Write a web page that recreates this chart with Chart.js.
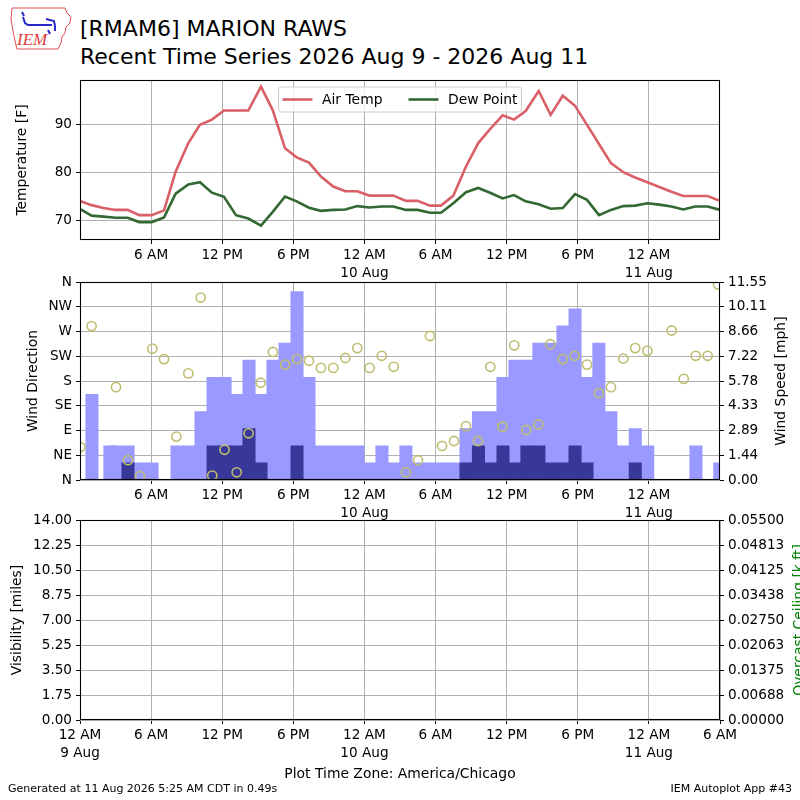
<!DOCTYPE html>
<html>
<head>
<meta charset="utf-8">
<title>RMAM6 Recent Time Series</title>
<script src="https://cdn.jsdelivr.net/npm/chart.js@4.4.1/dist/chart.umd.min.js"></script>
<style>
    html, body { margin: 0; padding: 0; background: #fff; width: 800px; height: 800px; overflow: hidden; }
    body { position: relative; font-family: "DejaVu Sans", sans-serif; color: #000; }
    .panel { position: absolute; left: 0; }
    #title { position: absolute; left: 80px; top: 15px; font-size: 22px; line-height: 28px; white-space: nowrap; }
    .foot { position: absolute; top: 781px; font-size: 11px; line-height: 16px; white-space: nowrap; }
    #logo { position: absolute; left: 8px; top: 4px; }
</style>
</head>
<body>
<svg id="logo" width="66" height="48" viewBox="0 0 66 48">
    <path d="M4 4 L57 4 L59 9 L63 13 L62 19 L58 23 L57 29 L54 33 L53 39 L50 45 L9 45 L7 37 L5 27 L3 15 Z" fill="none" stroke="#e05050" stroke-width="1"/>
    <path d="M14 8 L16 12 M15 13 L17 19 L20 21 L44 21 M38 15 L46 17 L47 22 L47 27 M40 26 L42 30" stroke="#2a2ac8" stroke-width="2" fill="none"/>
    <text x="9" y="41" font-family="Liberation Serif" font-style="italic" font-size="17" fill="#e03c3c">IEM</text>
</svg>
<div id="title">[RMAM6] MARION RAWS<br>Recent Time Series 2026 Aug 9 - 2026 Aug 11</div>
<div class="panel" style="top:60px"><canvas id="temp-chart" width="820" height="240"></canvas></div>
<div class="panel" style="top:270px"><canvas id="wind-chart" width="820" height="270"></canvas></div>
<div class="panel" style="top:500px"><canvas id="vis-chart" width="820" height="300"></canvas></div>
<div class="foot" style="left:8px">Generated at 11 Aug 2026 5:25 AM CDT in 0.49s</div>
<div class="foot" style="right:8px">IEM Autoplot App #43</div>

<script>
// saatler: 9 Aug 00:00'dan itibaren geçen saat
const hourTicks = [0, 6, 12, 18, 24, 30, 36, 42, 48, 54];
const hourLabels = [["12 AM", "9 Aug"], "6 AM", "12 PM", "6 PM", ["12 AM", "10 Aug"], "6 AM", "12 PM", "6 PM", ["12 AM", "11 Aug"], "6 AM"];

// sıcaklık ve çiy noktası
const tempHours = [0.06, 0.98, 1.99, 3.0, 4.02, 5.0, 6.05, 7.09, 8.07, 9.14,
    10.12, 11.13, 12.15, 13.16, 14.2, 15.27, 16.26, 17.3, 18.28, 19.32,
    20.33, 21.37, 22.39, 23.4, 24.41, 25.45, 26.44, 27.5, 28.49, 29.53,
    30.46, 31.5, 32.57, 33.6, 34.6, 35.66, 36.62, 37.6, 38.7, 39.71,
    40.73, 41.77, 42.78, 43.79, 44.8, 45.84, 46.84, 47.87, 48.88, 49.9,
    50.9, 51.9, 52.96, 54.0];
const airTemp = [74, 73.2, 72.6, 72.2, 72.2, 71.1, 71.1, 72.1, 80.2, 86.2,
    90, 91.1, 93, 93, 93, 98, 93.1, 85.1, 83.2, 82.1,
    79.2, 77.1, 76.1, 76.1, 75.2, 75.2, 75.2, 74.1, 74.1, 73.1,
    73.1, 75.2, 81.3, 86.2, 89.1, 92, 91.1, 92.9, 97.1, 92.1,
    96.1, 94, 90, 86, 82, 80.1, 79, 78, 77, 76,
    75.1, 75.1, 75.1, 74.1];
const dewPoint = [72.3, 71.0, 70.8, 70.55, 70.55, 69.65, 69.65, 70.6, 75.6, 77.55,
    78.0, 75.8, 74.95, 71.1, 70.4, 68.9, 71.8, 75.0, 74.0, 72.65,
    72.0, 72.2, 72.3, 73.0, 72.7, 72.9, 72.9, 72.2, 72.2, 71.6,
    71.6, 73.6, 75.9, 76.8, 75.8, 74.6, 75.3, 74.0, 73.4, 72.45,
    72.6, 75.5, 74.3, 71.1, 72.2, 73.0, 73.1, 73.6, 73.3, 72.9,
    72.3, 72.9, 72.9, 72.2];
const tempTicks = [70, 80, 90];

// rüzgar hızı / hamle (mph)
const windHours = [1.01, 2.52, 3.03, 4.05, 5.07, 6.08, 8.19, 9.2, 10.21, 11.23,
    12.24, 13.25, 14.26, 15.27, 16.28, 17.3, 18.31, 19.32, 20.33, 21.34,
    22.4, 23.45, 24.47, 25.48, 26.5, 27.5, 28.5, 29.52, 30.54, 31.56,
    32.57, 33.62, 34.68, 35.69, 36.7, 37.71, 38.72, 39.73, 40.75, 41.77,
    42.78, 43.78, 44.79, 45.8, 46.85, 47.9, 51.97, 53.98];
const gustMph = [5, 2, 2, 2, 1, 1, 2, 2, 4, 6,
    6, 5, 7, 5, 7, 8, 11, 6, 2, 2,
    2, 2, 1, 2, 1, 2, 1, 1, 1, 1,
    3, 4, 4, 6, 7, 7, 8, 8, 9, 10,
    6, 8, 4, 2, 3, 2, 2, 1];
const speedMph = [0, 0, 0, 1, 0, 0, 0, 0, 0, 2,
    2, 2, 3, 1, 0, 0, 2, 0, 0, 0,
    0, 0, 0, 0, 0, 0, 0, 0, 0, 0,
    1, 2, 1, 2, 1, 2, 2, 1, 1, 2,
    1, 0, 0, 0, 1, 0, 0, 0];

// rüzgar yönü (derece)
const dirHours = [0.03, 0.98, 3.04, 4.05, 5.06, 6.1, 7.09, 8.13, 9.14, 10.18,
    11.16, 12.2, 13.22, 14.23, 15.24, 16.28, 17.3, 18.31, 19.32, 20.33,
    21.37, 22.39, 23.4, 24.44, 25.46, 26.47, 27.5, 28.52, 29.53, 30.55,
    31.56, 32.57, 33.58, 34.62, 35.63, 36.64, 37.66, 38.67, 39.68, 40.73,
    41.74, 42.78, 43.79, 44.8, 45.84, 46.85, 47.87, 49.92, 50.94, 51.95,
    52.96, 53.83];
const dirDeg = [60, 280, 169, 36, 7, 239, 220, 79, 194, 332,
    8, 55, 14, 85, 177, 233, 210, 220, 217, 204,
    204, 222, 240, 204, 226, 206, 14, 36, 262, 62,
    71, 98, 71, 206, 97, 245, 91, 101, 247, 220,
    226, 210, 158, 169, 221, 240, 235, 272, 184, 226,
    226, 356];
const dirTicks = [0, 45, 90, 135, 180, 225, 270, 315, 360];
const dirLabels = ["N", "NE", "E", "SE", "S", "SW", "W", "NW", "N"];
const speedTicks = [0, 1.444, 2.8875, 4.331, 5.775, 7.219, 8.6625, 10.106, 11.55];
const speedLabels = ["0.00", "1.44", "2.89", "4.33", "5.78", "7.22", "8.66", "10.11", "11.55"];

// görüş / tavan (veri yok)
const visibility = [];
const ceiling = [];
const visTicks = [0, 1.75, 3.5, 5.25, 7, 8.75, 10.5, 12.25, 14];
const visLabels = ["0.00", "1.75", "3.50", "5.25", "7.00", "8.75", "10.50", "12.25", "14.00"];
const ceilTicks = [0, 0.006875, 0.01375, 0.020625, 0.0275, 0.034375, 0.04125, 0.048125, 0.055];
const ceilLabels = ["0.00000", "0.00688", "0.01375", "0.02063", "0.02750", "0.03438", "0.04125", "0.04813", "0.05500"];

const gridColor = "#b0b0b0";
const labelFont = { size: 13.9 };

Chart.defaults.font.family = '"DejaVu Sans", sans-serif';
Chart.defaults.font.size = 13.6;
Chart.defaults.color = "#000";
Chart.defaults.animation = false;
Chart.defaults.plugins.legend.display = false;
Chart.defaults.plugins.tooltip.enabled = false;

function points(xs, ys) {
    return xs.map((x, i) => ({ x: x, y: ys[i] }));
}

// çerçeve (matplotlib spines)
const frame = {
    id: "frame",
    afterDraw(chart) {
        const { ctx, chartArea } = chart;
        ctx.save();
        ctx.strokeStyle = "#000";
        ctx.lineWidth = 1.1;
        ctx.strokeRect(Math.round(chartArea.left) + 0.5, Math.round(chartArea.top) + 0.5,
            Math.round(chartArea.width) - 1, Math.round(chartArea.height) - 1);
        ctx.restore();
    }
};

// sağ eksen başlığı, matplotlib gibi aşağıdan yukarı okunur
function rightTitle(text, x, color) {
    return {
        id: "rightTitle",
        afterDraw(chart) {
            const { ctx, chartArea } = chart;
            ctx.save();
            ctx.translate(x, (chartArea.top + chartArea.bottom) / 2);
            ctx.rotate(-Math.PI / 2);
            ctx.font = '13.9px "DejaVu Sans"';
            ctx.fillStyle = color;
            ctx.textAlign = "center";
            ctx.textBaseline = "middle";
            ctx.fillText(text, 0, 0);
            ctx.restore();
        }
    };
}

// grafiğin içinde, üst ortada lejant kutusu
const legendBox = {
    id: "legendBox",
    afterDatasetsDraw(chart) {
        const { ctx, chartArea } = chart;
        ctx.save();
        ctx.font = '13.9px "DejaVu Sans"';
        const items = chart.data.datasets.map(ds => ({ text: ds.label, color: ds.borderColor, w: ctx.measureText(ds.label).width }));
        const pad = 4, lineLen = 30, textGap = 9.5, colGap = 26, h = 25;
        let width = pad * 2 + colGap * (items.length - 1);
        items.forEach(it => { width += lineLen + textGap + it.w; });
        const x0 = (chartArea.left + chartArea.right) / 2 - width / 2;
        const y0 = chartArea.top + 7;
        ctx.beginPath();
        ctx.roundRect(x0, y0, width, h, 3);
        ctx.fillStyle = "rgba(255,255,255,0.8)";
        ctx.fill();
        ctx.strokeStyle = "#cccccc";
        ctx.lineWidth = 1;
        ctx.stroke();
        let x = x0 + pad;
        const yc = y0 + h / 2;
        items.forEach(it => {
            ctx.beginPath();
            ctx.moveTo(x, yc);
            ctx.lineTo(x + lineLen, yc);
            ctx.strokeStyle = it.color;
            ctx.lineWidth = 2.6;
            ctx.stroke();
            ctx.fillStyle = "#000";
            ctx.textBaseline = "middle";
            ctx.fillText(it.text, x + lineLen + textGap, yc + 1);
            x += lineLen + textGap + it.w + colGap;
        });
        ctx.restore();
    }
};

function timeAxis(showEnds, height, title) {
    const ticks = showEnds ? hourTicks : hourTicks.slice(1, -1);
    const labels = showEnds ? hourLabels : hourLabels.slice(1, -1);
    return {
        type: "linear",
        min: 0,
        max: 54,
        offset: false,
        afterBuildTicks: (scale) => { scale.ticks = ticks.map(v => ({ value: v })); },
        afterFit: (scale) => { scale.height = height; },
        ticks: { autoSkip: false, maxRotation: 0, padding: 3, font: { size: 13.6, lineHeight: 1.28 }, callback: (v, i) => labels[i] },
        grid: { color: gridColor, tickColor: "#000", tickLength: 4, offset: false },
        border: { display: false },
        title: title ? { display: true, text: title, font: labelFont, padding: { top: 0, bottom: 17 } } : { display: false }
    };
}

function valueAxis(position, min, max, ticks, labels, title, titlePad, onChart) {
    return {
        type: "linear",
        position: position,
        min: min,
        max: max,
        afterBuildTicks: (scale) => { scale.ticks = ticks.map(v => ({ value: v })); },
        afterFit: (scale) => { scale.width = position === "left" ? 80 : 100; },
        ticks: { autoSkip: false, padding: 4, callback: (v, i) => labels[i] },
        grid: { color: gridColor, tickColor: "#000", tickLength: 4, drawOnChartArea: onChart },
        border: { display: false },
        title: title ? { display: true, text: title, font: labelFont, padding: { top: titlePad, bottom: 0 } } : { display: false }
    };
}

// sıcaklık paneli
new Chart(document.getElementById("temp-chart").getContext("2d"), {
    type: "line",
    data: {
        datasets: [{
            label: "Air Temp",
            data: points(tempHours, airTemp),
            borderColor: "rgb(218,96,104)",
            borderWidth: 2.6,
            pointRadius: 0,
            tension: 0
        }, {
            label: "Dew Point",
            data: points(tempHours, dewPoint),
            borderColor: "rgb(50,104,50)",
            borderWidth: 2.6,
            pointRadius: 0,
            tension: 0
        }]
    },
    options: {
        responsive: false,
        layout: { padding: { top: 20, right: 100, left: 0, bottom: 0 } },
        scales: {
            x: timeAxis(false, 60, null),
            y: valueAxis("left", 65.9, 99.4, tempTicks, tempTicks.map(String), "Temperature [F]", 14, true)
        }
    },
    plugins: [frame, legendBox]
});

// rüzgar paneli
new Chart(document.getElementById("wind-chart").getContext("2d"), {
    type: "scatter",
    data: {
        datasets: [{
            type: "scatter",
            label: "Wind Direction",
            data: points(dirHours, dirDeg),
            yAxisID: "y",
            pointStyle: "circle",
            pointRadius: 4.6,
            pointBorderWidth: 1.6,
            pointBackgroundColor: "rgba(0,0,0,0)",
            pointBorderColor: "rgb(190,190,112)",
            order: 0
        }, {
            type: "bar",
            label: "Wind Speed",
            data: points(windHours, speedMph),
            yAxisID: "y2",
            backgroundColor: "rgb(56,56,152)",
            barThickness: 12.4,
            grouped: false,
            order: 1
        }, {
            type: "bar",
            label: "Wind Gust",
            data: points(windHours, gustMph),
            yAxisID: "y2",
            backgroundColor: "rgb(153,153,255)",
            barThickness: 12.4,
            grouped: false,
            order: 2
        }]
    },
    options: {
        responsive: false,
        layout: { padding: { top: 10, right: 0, left: 0, bottom: 0 } },
        scales: {
            x: Object.assign(timeAxis(false, 60, null), { z: 1 }),
            y: Object.assign(valueAxis("left", 0, 360, dirTicks, dirLabels, "Wind Direction", 25, true), { z: 1 }),
            y2: valueAxis("right", 0, 11.55, speedTicks, speedLabels, null, 0, false)
        }
    },
    plugins: [frame, rightTitle("Wind Speed [mph]", 781, "#000")]
});

// görüş paneli
new Chart(document.getElementById("vis-chart").getContext("2d"), {
    type: "line",
    data: {
        datasets: [{
            label: "Visibility",
            data: points([], visibility),
            yAxisID: "y",
            borderColor: "#000"
        }, {
            label: "Overcast Ceiling",
            data: points([], ceiling),
            yAxisID: "y2",
            borderColor: "green"
        }]
    },
    options: {
        responsive: false,
        layout: { padding: { top: 20, right: 0, left: 0, bottom: 0 } },
        scales: {
            x: timeAxis(true, 80, "Plot Time Zone: America/Chicago"),
            y: valueAxis("left", 0, 14, visTicks, visLabels, "Visibility [miles]", 9, true),
            y2: valueAxis("right", 0, 0.055, ceilTicks, ceilLabels, null, 0, false)
        }
    },
    plugins: [frame, rightTitle("Overcast Ceiling [k ft]", 799, "green")]
});
</script>
</body>
</html>
